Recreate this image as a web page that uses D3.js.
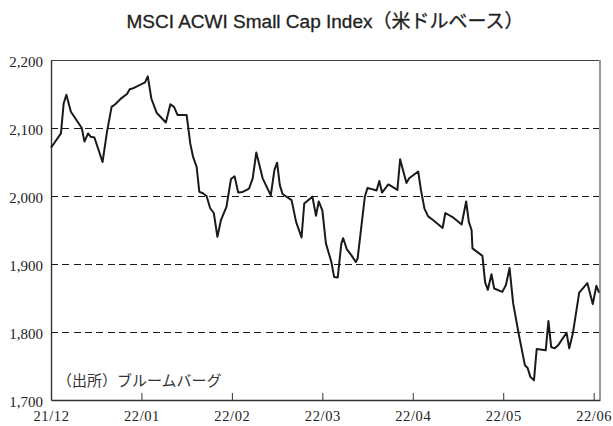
<!DOCTYPE html>
<html>
<head>
<meta charset="utf-8">
<script src="https://cdn.jsdelivr.net/npm/d3@7/dist/d3.min.js"></script>
<style>
  html, body { margin: 0; padding: 0; background: #fff; }
  svg { display: block; }
  .serif { font-family: "Liberation Serif", "DejaVu Serif", "Times New Roman", serif; }
</style>
</head>
<body>
<svg id="chart" width="613" height="426"></svg>
<script>
// ---- data ----
const title = "MSCI ACWI Small Cap Index（米ドルベース）";
const sourceNote = "（出所）ブルームバーグ";
// x positions in months since 21/12 (0 = 21/12, 1 = 22/01, ...)
const monthPos = [
  0.00, 0.11, 0.14, 0.17, 0.22, 0.27, 0.34, 0.37, 0.41, 0.44,
  0.48, 0.57, 0.62, 0.67, 0.71, 0.78, 0.84, 0.87, 0.90, 1.04,
  1.07, 1.11, 1.17, 1.27, 1.32, 1.36, 1.40, 1.50, 1.54, 1.57,
  1.61, 1.64, 1.68, 1.72, 1.76, 1.80, 1.84, 1.88, 1.94, 1.99,
  2.03, 2.07, 2.12, 2.19, 2.23, 2.27, 2.34, 2.43, 2.47, 2.50,
  2.53, 2.56, 2.66, 2.71, 2.77, 2.80, 2.89, 2.93, 2.96, 3.00,
  3.04, 3.10, 3.13, 3.17, 3.21, 3.23, 3.27, 3.32, 3.37, 3.39,
  3.44, 3.47, 3.50, 3.60, 3.63, 3.66, 3.73, 3.83, 3.86, 3.93,
  3.96, 4.06, 4.09, 4.13, 4.17, 4.22, 4.33, 4.36, 4.44, 4.54,
  4.59, 4.62, 4.65, 4.66, 4.77, 4.80, 4.83, 4.87, 4.90, 4.99,
  5.03, 5.07, 5.11, 5.17, 5.24, 5.27, 5.30, 5.34, 5.37, 5.47,
  5.50, 5.53, 5.57, 5.61, 5.70, 5.73, 5.77, 5.84, 5.93, 5.99,
  6.03, 6.06
];
const indexValues = [
  2071, 2092, 2136, 2149, 2124, 2114, 2100, 2080, 2092, 2087,
  2086, 2050, 2095, 2131, 2135, 2144, 2150, 2157, 2158, 2167,
  2176, 2143, 2122, 2108, 2135, 2131, 2119, 2119, 2077, 2058,
  2043, 2006, 2004, 2000, 1982, 1975, 1940, 1965, 1984, 2025,
  2029, 2005, 2006, 2011, 2026, 2064, 2026, 2001, 2038, 2049,
  2016, 2003, 1994, 1962, 1939, 1989, 1999, 1971, 1992, 1979,
  1930, 1903, 1881, 1880, 1930, 1938, 1922, 1913, 1903, 1908,
  1965, 1999, 2012, 2008, 2022, 2005, 2017, 2009, 2054, 2019,
  2026, 2036, 2009, 1981, 1970, 1965, 1953, 1975, 1969, 1958,
  1992, 1962, 1950, 1923, 1912, 1873, 1862, 1885, 1864, 1859,
  1869, 1894, 1842, 1798, 1751, 1747, 1734, 1729, 1775, 1773,
  1816, 1778, 1776, 1781, 1799, 1776, 1798, 1858, 1872, 1841,
  1868, 1858
];
const xTickLabels = ["21/12", "22/01", "22/02", "22/03", "22/04", "22/05", "22/06"];
const yTicks = [1700, 1800, 1900, 2000, 2100, 2200];
const gridValues = [1800, 1900, 2000, 2100];

// ---- layout ----
const mLeft = 51, mRight = 600, mTop = 60, mBottom = 400;
const svg = d3.select("#chart");

const x = d3.scaleLinear().domain([0, 6.07]).range([mLeft, mRight]);
const y = d3.scaleLinear().domain([1700, 2200]).range([mBottom, mTop]);

// title
svg.append("text")
  .attr("x", 325).attr("y", 28)
  .attr("text-anchor", "middle")
  .style("font-family", "'Liberation Sans', Arial, 'Noto Sans CJK JP', sans-serif")
  .style("font-size", "19px")
  .attr("fill", "#222")
  .attr("stroke", "#222").attr("stroke-width", 0.3)
  .text(title);

// gridlines
svg.append("g").selectAll("line").data(gridValues).join("line")
  .attr("x1", mLeft).attr("x2", mRight)
  .attr("y1", d => y(d) + 0.5).attr("y2", d => y(d) + 0.5)
  .attr("stroke", "#1a1a1a").attr("stroke-width", 1)
  .attr("shape-rendering", "crispEdges")
  .attr("stroke-dasharray", "7,4.3");

// top border
svg.append("line")
  .attr("x1", mLeft).attr("x2", mRight).attr("y1", mTop + 0.5).attr("y2", mTop + 0.5)
  .attr("stroke", "#444").attr("stroke-width", 1)
  .attr("shape-rendering", "crispEdges");
// right border
svg.append("line")
  .attr("x1", mRight).attr("x2", mRight).attr("y1", mTop).attr("y2", mBottom)
  .attr("stroke", "#999").attr("stroke-width", 2);

// y axis
const yAxis = d3.axisLeft(y).tickValues(yTicks).tickSize(0).tickPadding(8)
  .tickFormat(d3.format(","));
const gy = svg.append("g").attr("transform", `translate(${mLeft},0)`).call(yAxis);
gy.attr("font-family", null).attr("font-size", null);
gy.select(".domain").attr("stroke", "#333").attr("stroke-width", 1.4);
gy.selectAll("text")
  .attr("class", "serif")
  .style("font-size", "15px").attr("fill", "#222").attr("dy", "0.42em");

// x axis
const xAxis = d3.axisBottom(x).tickValues(d3.range(xTickLabels.length))
  .tickSizeInner(-7).tickSizeOuter(0).tickPadding(11)
  .tickFormat((d, i) => xTickLabels[i]);
const gx = svg.append("g").attr("transform", `translate(0,${mBottom})`).call(xAxis);
gx.attr("font-family", null).attr("font-size", null);
gx.select(".domain").attr("stroke", "#333").attr("stroke-width", 1.4);
gx.selectAll(".tick line").attr("stroke", "#333").attr("stroke-width", 1);
gx.selectAll("text")
  .attr("class", "serif")
  .style("font-size", "14.5px").attr("fill", "#222").attr("letter-spacing", "0.6px");

// line
const pts = monthPos.map((m, i) => [m, indexValues[i]]);
svg.append("path")
  .datum(pts)
  .attr("fill", "none")
  .attr("stroke", "#1a1a1a")
  .attr("stroke-width", 2)
  .attr("stroke-linejoin", "round")
  .attr("d", d3.line().x(d => x(d[0])).y(d => y(d[1])));

// source note
svg.append("text")
  .attr("x", 57).attr("y", 386)
  .style("font-family", "'Noto Sans CJK JP', sans-serif")
  .style("font-size", "15px")
  .attr("fill", "#333")
  .text(sourceNote);
</script>
</body>
</html>
